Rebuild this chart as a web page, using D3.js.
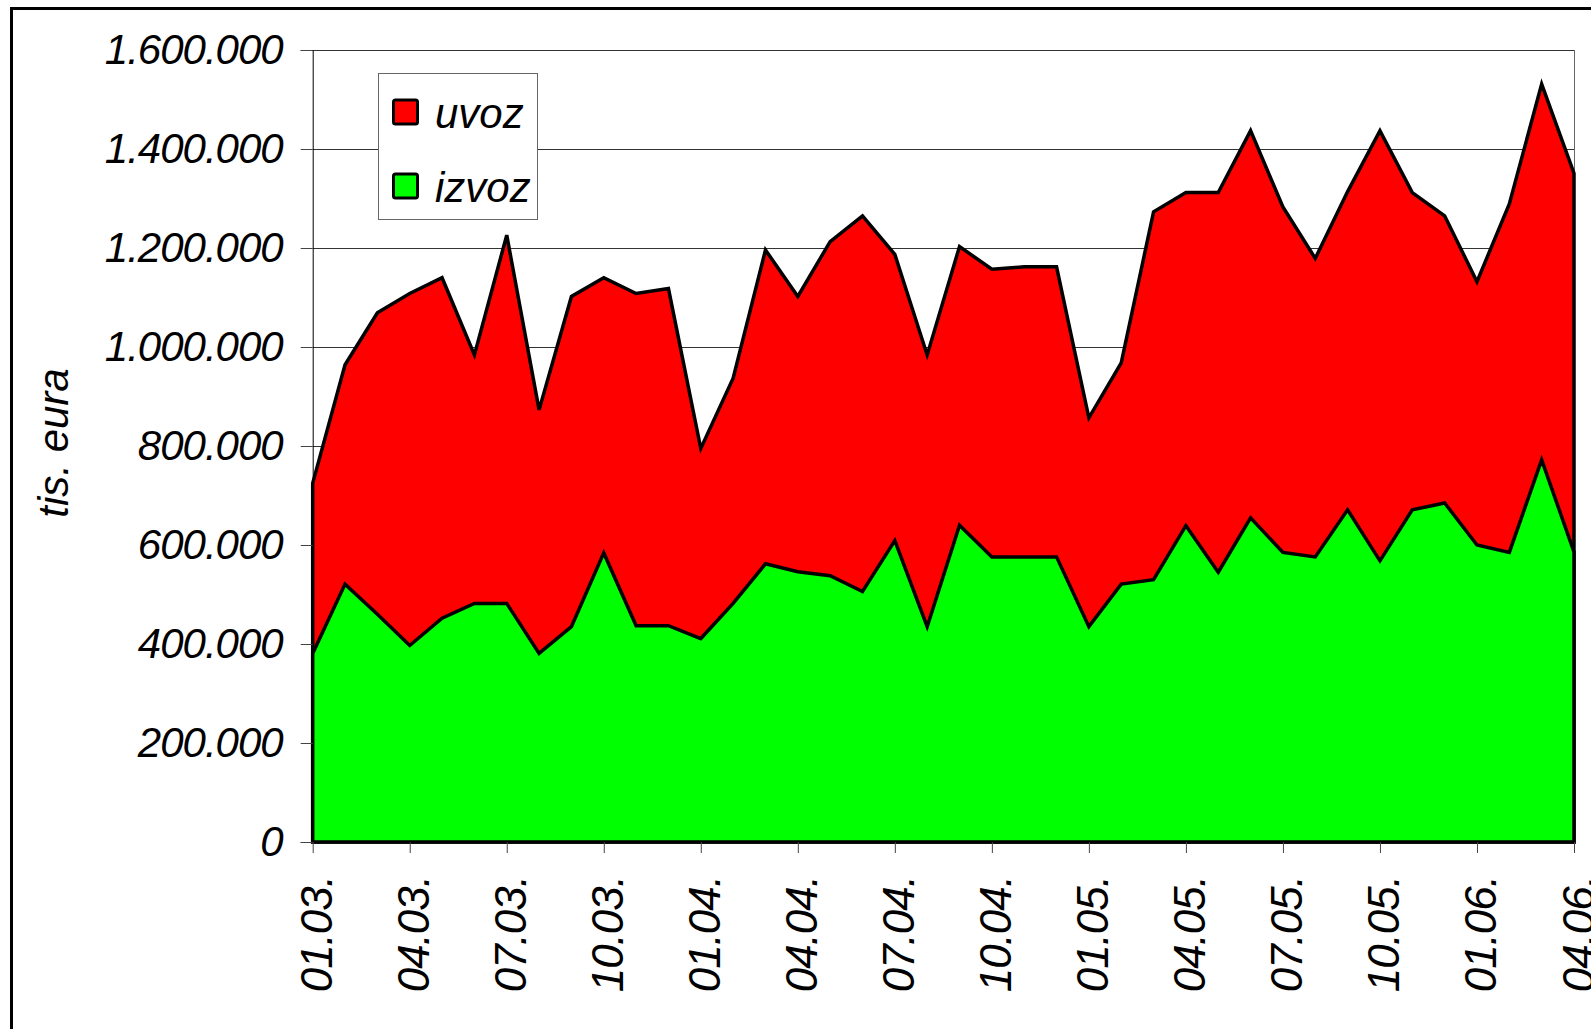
<!DOCTYPE html>
<html>
<head>
<meta charset="utf-8">
<script src="https://cdn.jsdelivr.net/npm/d3@7"></script>
<style>
  body { margin: 0; background: #fff; }
  svg { display: block; font-family: "Liberation Sans", Arial, sans-serif; font-style: italic; }
</style>
</head>
<body>
<div id="main"></div>
<script>
// monthly labels, Jan 2003 .. Apr 2006
const months = [
  "01.03.", "02.03.", "03.03.", "04.03.", "05.03.", "06.03.", "07.03.", "08.03.", "09.03.", "10.03.", "11.03.", "12.03.",
  "01.04.", "02.04.", "03.04.", "04.04.", "05.04.", "06.04.", "07.04.", "08.04.", "09.04.", "10.04.", "11.04.", "12.04.",
  "01.05.", "02.05.", "03.05.", "04.05.", "05.05.", "06.05.", "07.05.", "08.05.", "09.05.", "10.05.", "11.05.", "12.05.",
  "01.06.", "02.06.", "03.06.", "04.06."
]
// every third month gets a label
const shownMonths = months.filter((m, i) => i % 3 === 0)

// tis. eura
const uvoz = [
  725000, 964000, 1069000, 1108000, 1140000, 984000, 1226000, 873000, 1102000, 1140000, 1108000, 1118000,
  795000, 937000, 1196000, 1102000, 1213000, 1265000, 1187000, 984000, 1203000, 1157000, 1162000, 1162000,
  857000, 968000, 1273000, 1312000, 1312000, 1437000, 1283000, 1179000, 1314000, 1437000, 1312000, 1265000,
  1132000, 1289000, 1531000, 1351000
]
const izvoz = [
  381000, 521000, 460000, 397000, 452000, 482000, 482000, 381000, 435000, 584000, 437000, 437000,
  411000, 482000, 562000, 546000, 538000, 506000, 609000, 435000, 640000, 576000, 576000, 576000,
  435000, 521000, 530000, 639000, 545000, 655000, 585000, 576000, 671000, 568000, 671000, 685000,
  600000, 585000, 772000, 586000
]
const yTicks = [0, 200000, 400000, 600000, 800000, 1000000, 1200000, 1400000, 1600000]
const seriesNames = ["uvoz", "izvoz"]
const seriesColors = ["#ff0000", "#00ff00"]

const width = 1591
const height = 1029
const plotLeft = 312.7, plotRight = 1574, plotTop = 50, plotBottom = 842

const svg = d3.select("#main").append("svg")
  .attr("width", width)
  .attr("height", height)

// outer frame (runs off the page on the right and bottom)
svg.append("rect")
  .attr("x", 11.5).attr("y", 8.5)
  .attr("width", 1700).attr("height", 1100)
  .attr("fill", "#fff")
  .attr("stroke", "#000")
  .attr("stroke-width", 3)

const x = d3.scalePoint().domain(months).range([plotLeft, plotRight])
const y = d3.scaleLinear().domain([0, 1600000]).range([plotBottom, plotTop])

const loc = d3.formatLocale({ decimal: ",", thousands: ".", grouping: [3], currency: ["", ""] })
const fmt = loc.format(",d")

// gridlines
svg.append("g")
  .selectAll("line")
  .data(yTicks.slice(1))
  .enter().append("line")
  .attr("x1", plotLeft).attr("x2", plotRight)
  .attr("y1", d => Math.round(y(d)) + 0.5)
  .attr("y2", d => Math.round(y(d)) + 0.5)
  .attr("stroke", "#333")
  .attr("stroke-width", 1)

// plot area right border
svg.append("line")
  .attr("x1", plotRight + 0.5).attr("x2", plotRight + 0.5)
  .attr("y1", plotTop).attr("y2", plotBottom)
  .attr("stroke", "#666")

// areas, overlapping from zero (import behind export)
const area = d3.area()
  .x((d, i) => x(months[i]))
  .y0(y(0))
  .y1(d => y(d))

svg.append("g")
  .selectAll("path")
  .data([uvoz, izvoz])
  .enter().append("path")
  .attr("d", d => area(d))
  .attr("fill", (d, i) => seriesColors[i])
  .attr("stroke", "#000")
  .attr("stroke-width", 3.5)
  .attr("stroke-linejoin", "miter")

// y axis
const yAxis = svg.append("g")
  .attr("transform", `translate(${plotLeft},0)`)
  .call(d3.axisLeft(y).tickValues(yTicks).tickFormat(fmt).tickSize(12).tickPadding(18))
yAxis.select(".domain").attr("stroke", "#000")
yAxis.selectAll(".tick line").attr("stroke", "#444")
yAxis.selectAll("text")
  .attr("font-size", 42)
  .attr("letter-spacing", -1)
  .attr("fill", "#000")
  .attr("font-family", "Liberation Sans, Arial, sans-serif")

// x axis
const xAxis = svg.append("g")
  .attr("transform", `translate(0,${plotBottom})`)
  .call(d3.axisBottom(x).tickValues(shownMonths).tickSize(11))
xAxis.select(".domain").remove()
xAxis.selectAll(".tick line").attr("stroke", "#444")
xAxis.selectAll("text")
  .attr("transform", "rotate(-90)")
  .attr("text-anchor", "end")
  .attr("x", -34)
  .attr("y", 19)
  .attr("dy", null)
  .attr("font-size", 44)
  .attr("letter-spacing", -1)
  .attr("fill", "#000")
  .attr("font-family", "Liberation Sans, Arial, sans-serif")

// y axis title
svg.append("text")
  .attr("transform", "translate(68,443) rotate(-90)")
  .attr("text-anchor", "middle")
  .attr("font-size", 42)
  .text("tis. eura")

// legend
const legend = svg.append("g")
legend.append("rect")
  .attr("x", 378.5).attr("y", 73.5)
  .attr("width", 159).attr("height", 146)
  .attr("fill", "#fff")
  .attr("stroke", "#666")
  .attr("stroke-width", 1)

const items = legend.selectAll(".item")
  .data(seriesNames)
  .enter().append("g")
  .attr("class", "item")
  .attr("transform", (d, i) => `translate(0,${i * 74})`)

items.append("rect")
  .attr("x", 393.5).attr("y", 100)
  .attr("width", 24).attr("height", 24)
  .attr("rx", 2)
  .attr("fill", (d, i) => seriesColors[i])
  .attr("stroke", "#000")
  .attr("stroke-width", 3)

items.append("text")
  .attr("x", 435).attr("y", 128)
  .attr("font-size", 42)
  .text(d => d)
</script>
</body>
</html>
